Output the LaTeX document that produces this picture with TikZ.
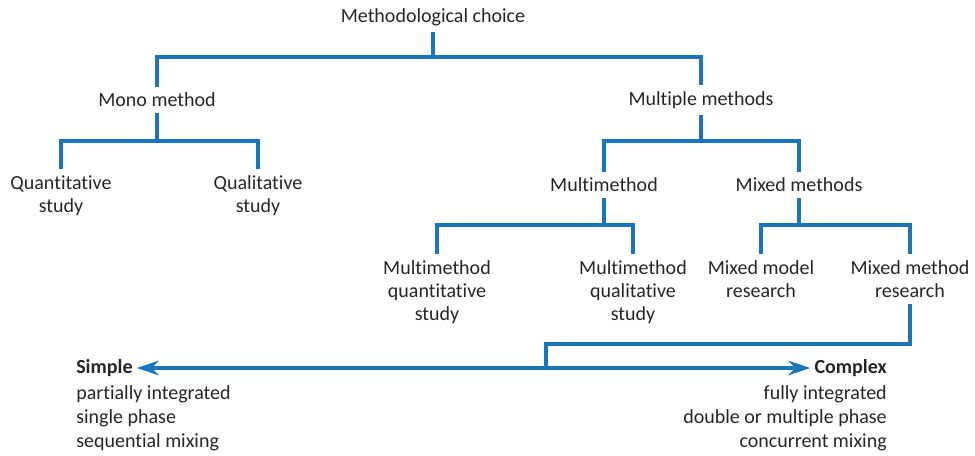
\documentclass[tikz,border=0pt]{standalone}
\usepackage{fontspec}
\setmainfont{Carlito}[Ligatures=NoCommon]
\usepackage{tikz}
\usetikzlibrary{arrows.meta, calc}
\definecolor{treeblue}{HTML}{1B75BB}

\begin{document}
\begin{tikzpicture}[
      x=0.75pt, y=-0.75pt,
      every node/.style={font=\fontsize{15}{17.5}\selectfont, text=black!85},
      choice/.style={align=center, inner sep=4.5pt},
      branch/.style={draw=treeblue, line width=3.6pt, line join=miter},
      scalearrow/.style={draw=treeblue, line width=2.4pt,
                    {Stealth[length=16.5pt, width=11pt]}-{Stealth[length=16.5pt, width=11pt]}},
    ]
    \useasboundingbox (0,0) rectangle (975,455);

    % tree of choices
    \node[choice] (mc) at (433, 17) {Methodological choice};
    \node[choice] (mono) at (157, 100) {Mono method};
    \node[choice] (multi) at (701, 100) {Multiple methods};
    \node[choice, anchor=north] (quant) at (61, 169) {Quantitative\\study};
    \node[choice, anchor=north] (qual) at (258, 169) {Qualitative\\study};
    \node[choice] (mm) at (604, 185) {Multimethod};
    \node[choice] (mixed) at (799, 185) {Mixed methods};
    \node[choice, anchor=north] (mmquant) at (437, 254) {Multimethod\\quantitative\\study};
    \node[choice, anchor=north] (mmqual) at (633, 254) {Multimethod\\qualitative\\study};
    \node[choice, anchor=north] (mmodel) at (761, 254) {Mixed model\\research};
    \node[choice, anchor=north] (mmethod) at (910, 254) {Mixed method\\research};

    \coordinate (j1) at (433, 57);
    \coordinate (j2) at (157, 141);
    \coordinate (j3) at (701, 141);
    \coordinate (j4) at (604, 225);
    \coordinate (j5) at (799, 225);
    \coordinate (j6) at (546, 344);
    \coordinate (j7) at (546, 368);

    \draw[branch] (mc.south) -- (j1);
    \draw[branch] (mono.north) |- (j1) -| (multi.north);
    \draw[branch] (mono.south) -- (j2);
    \draw[branch] (quant.north) |- (j2) -| (qual.north);
    \draw[branch] (multi.south) -- (j3);
    \draw[branch] (mm.north) |- (j3) -| (mixed.north);
    \draw[branch] (mm.south) -- (j4);
    \draw[branch] (mmquant.north) |- (j4) -| (mmqual.north);
    \draw[branch] (mixed.south) -- (j5);
    \draw[branch] (mmodel.north) |- (j5) -| (mmethod.north);
    \draw[branch] (mmethod.south) |- (j6) -- (j7);

    % simple -- complex scale
    \node[anchor=west, inner sep=3pt, font=\fontsize{15}{17.5}\selectfont\bfseries] (simple) at (72, 368) {Simple};
    \node[anchor=east, inner sep=3pt, font=\fontsize{15}{17.5}\selectfont\bfseries] (complex) at (891, 368) {Complex};
    \node[anchor=north west, align=left, inner sep=3pt,
          font=\fontsize{15}{18}\selectfont] (simpledesc) at (simple.south west)
      {partially integrated\\single phase\\sequential mixing};
    \node[anchor=north east, align=right, inner sep=3pt,
          font=\fontsize{15}{18}\selectfont] (complexdesc) at (complex.south east)
      {fully integrated\\double or multiple phase\\concurrent mixing};

    \draw[scalearrow] (simple.east) -- (complex.west);
  \end{tikzpicture}
\end{document}
